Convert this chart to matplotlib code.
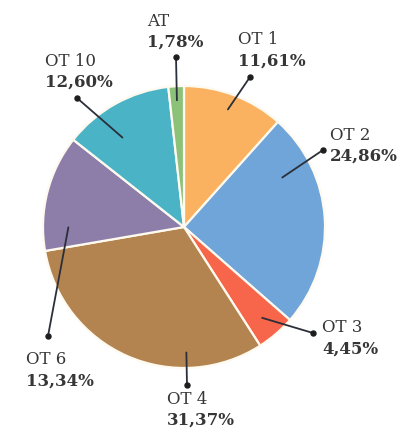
"""Pie chart: share per OT (reference recreation)."""
import numpy as np
import matplotlib
matplotlib.use("Agg")
import matplotlib.pyplot as plt

# data (clockwise from 12 o'clock)
labels = ["OT 1", "OT 2", "OT 3", "OT 4", "OT 6", "OT 10", "AT"]
shares = [11.61, 24.86, 4.45, 31.37, 13.34, 12.60, 1.78]
colors = ["#FBB260", "#70A5D9", "#F7664A", "#B3844F",
          "#8C7EA8", "#4BB3C6", "#8CC17A"]

# layout, in pixels measured from the top-left corner
W, H = 401, 433
CENTER = (184, 227)
RADIUS = 141
# where the leader starts inside each wedge: fraction across the wedge, radius fraction
leader_in = [(0.51, 0.89), (0.76, 0.78), (0.5, 0.85), (0.72, 0.89),
             (0.8, 0.82), (0.62, 0.77), (0.5, 0.9)]
dot_xy = [(250, 77), (323, 150), (313, 333), (187, 385),
          (48, 336), (77, 98), (176, 57)]
text_xy = [(238, 40), (330, 135), (322, 328), (167, 399),
           (26, 360), (45, 61), (147, 21)]
LINE_GAP = 21

TXT = "#363636"
plt.rcParams["font.family"] = ["DejaVu Serif"]

fig = plt.figure(figsize=(W / 100, H / 100), dpi=100)
ax = fig.add_axes([0, 0, 1, 1])

wedges, _ = ax.pie(
    shares, colors=colors, startangle=90, counterclock=False,
    center=(CENTER[0], H - CENTER[1]), radius=RADIUS,
    wedgeprops={"edgecolor": "#fffaf0", "linewidth": 1.6},
)
ax.set_xlim(0, W)
ax.set_ylim(0, H)
ax.set_aspect("equal")
ax.axis("off")

for w, lab, val, (f, rf), (dx, dy), (tx, ty) in zip(
        wedges, labels, shares, leader_in, dot_xy, text_xy):
    ang = np.deg2rad(w.theta1 + f * (w.theta2 - w.theta1))
    cx, cy = w.center
    x0 = cx + rf * w.r * np.cos(ang)
    y0 = cy + rf * w.r * np.sin(ang)
    ax.plot([x0, dx], [y0, H - dy], color="#2b2f3a", lw=1.3,
            solid_capstyle="round", zorder=4)
    ax.plot(dx, H - dy, "o", color="#1e1e1e", ms=3.6, zorder=5)
    ax.text(tx, H - ty, lab, fontsize=12, color=TXT,
            ha="left", va="center")
    ax.text(tx, H - ty - LINE_GAP, f"{val:.2f}".replace(".", ",") + "%",
            fontsize=12, fontweight="bold", color=TXT,
            ha="left", va="center")

fig.savefig("out.png", dpi=100)
